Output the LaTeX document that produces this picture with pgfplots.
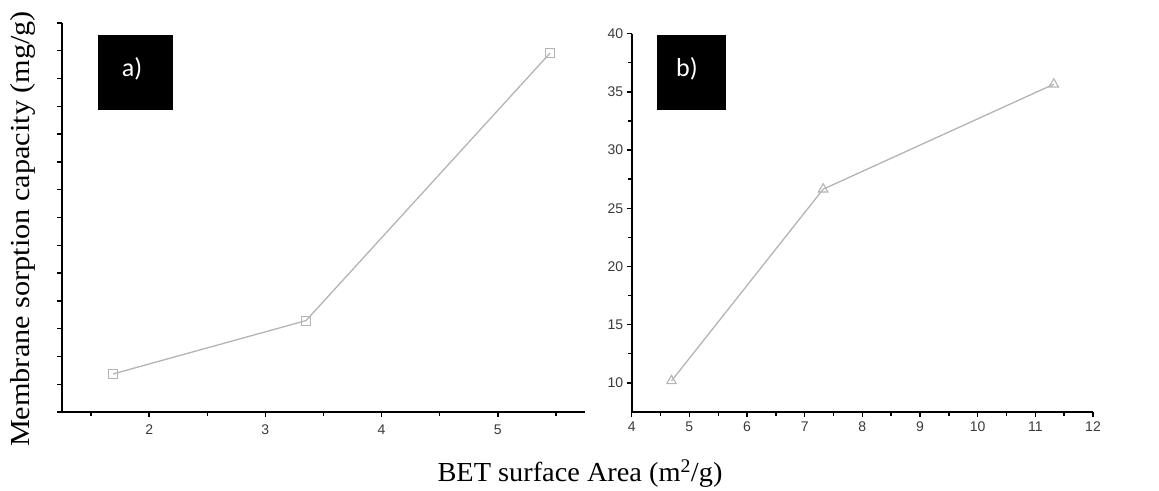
\documentclass[border=0pt]{standalone}
\usepackage{pgfplots}
\pgfplotsset{compat=1.18}
\usepackage{fontspec}
\setmainfont{Liberation Serif}
\newfontfamily\tickfont{Liberation Sans}
\newfontfamily\boxfont{Carlito}
\newcommand\tickfs{\tickfont\fontsize{14}{14}\selectfont}
\definecolor{lgray}{HTML}{B4B4B4}
\definecolor{tgray}{HTML}{3A3A3A}
\pgfplotsset{
  common/.style={
    scale only axis,
    axis lines=left,
    axis line style={-, line width=2.2pt, black},
    tick align=outside,
    tick style={line width=1.4pt, black},
    major tick length=5pt,
    minor tick length=3.5pt,
    every tick label/.append style={text=tgray},
    xticklabel={\tickfs\pgfmathprintnumber[assume math mode=true]{\tick}},
    yticklabel={\tickfs\pgfmathprintnumber[assume math mode=true]{\tick}},
    clip=false,
  }
}
\begin{document}
\begin{tikzpicture}[x=1pt,y=1pt]
\useasboundingbox (0,0) rectangle (1159,490);
% panel a
\begin{axis}[common,
  at={(62pt,78pt)}, anchor=south west,
  width=523pt, height=389pt,
  xmin=1.25, xmax=5.75, ymin=0, ymax=14,
  xtick={2,3,4,5}, minor xtick={1.5,2.5,3.5,4.5,5.5},
  ytick={0,1,...,14}, yticklabels={},
  xticklabel style={yshift=-4pt},
]
\addplot[lgray, line width=1.3pt, mark=square, mark size=4.5pt, mark options={solid, line width=1.1pt, fill=white}]
  coordinates {(1.69,1.37) (3.35,3.29) (5.45,12.92)};
\end{axis}
% panel b
\begin{axis}[common,
  at={(631.7pt,78pt)}, anchor=south west,
  width=461.3pt, height=378.3pt,
  xmin=4, xmax=12, ymin=7.5, ymax=40,
  xtick={4,5,...,12}, minor xtick={4.5,5.5,...,11.5},
  ytick={10,15,...,40}, minor ytick={12.5,17.5,...,37.5},
  xticklabel style={yshift=-1pt},
]
\addplot[lgray, line width=1.3pt, mark=triangle, mark size=5.5pt, mark options={solid, line width=1.1pt, fill=white}]
  coordinates {(4.69,10.17) (7.32,26.64) (11.32,35.66)};
\end{axis}
% label boxes
\fill[black] (98,380) rectangle (173,455);
\node[text=white, font=\boxfont\fontsize{26}{26}\selectfont] at (132,421) {a)};
\fill[black] (657,380) rectangle (726,455);
\node[text=white, font=\boxfont\fontsize{26}{26}\selectfont] at (687,421) {b)};
% axis titles
\node[rotate=90, font=\fontsize{27.5}{27.5}\selectfont] at (23,261) {\scalebox{1.1}[1]{Membrane sorption capacity (mg/g)}};
\node[font=\fontsize{27.5}{27.5}\selectfont] at (580,16) {\scalebox{1.03}[1]{BET surface Area (m\textsuperscript{2}/g)}};
\end{tikzpicture}
\end{document}
